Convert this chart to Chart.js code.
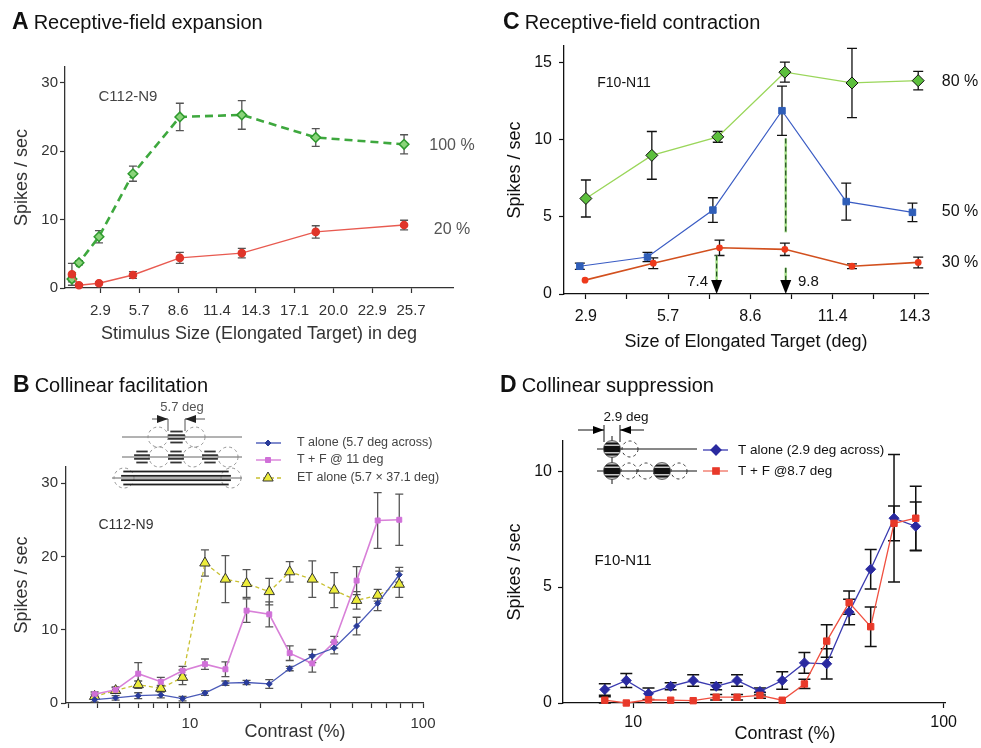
<!DOCTYPE html>
<html>
<head>
<meta charset="utf-8">
<script src="https://cdn.jsdelivr.net/npm/chart.js@4.4.0/dist/chart.umd.min.js"></script>
<style>
  body { margin: 0; background: #fff; }
  #wrap { position: relative; width: 981px; height: 748px; overflow: hidden; }
  #wrap canvas { position: absolute; left: 0; top: 0; }
  .head { position: absolute; font-family: 'Liberation Sans', Arial, sans-serif; font-size: 20px; line-height: 24px; color: #111; white-space: nowrap; }
  .head b { font-size: 23px; margin-right: 5px; }
</style>
</head>
<body>
<div id="wrap">
  <canvas id="panelA" width="981" height="748"></canvas>
  <canvas id="panelB" width="981" height="748"></canvas>
  <canvas id="panelC" width="981" height="748"></canvas>
  <canvas id="panelD" width="981" height="748"></canvas>
  <div class="head" style="left:12px; top:9px;"><b>A</b>Receptive-field expansion</div>
  <div class="head" style="left:503px; top:9px;"><b>C</b>Receptive-field contraction</div>
  <div class="head" style="left:13px; top:372px;"><b>B</b>Collinear facilitation</div>
  <div class="head" style="left:500px; top:372px;"><b>D</b>Collinear suppression</div>
</div>
<script>
var FONT = "'Liberation Sans', Arial, Helvetica, sans-serif";
Chart.defaults.font.family = FONT;

// A: spikes vs. stimulus size, two contrasts
var sizeA = [0.76, 1.28, 2.75, 5.25, 8.7, 13.26, 18.7, 25.2];
var rate100A = [1.3, 3.7, 7.5, 16.7, 25.0, 25.3, 22.0, 21.0];
var err100A = [0.4, 0.3, 0.9, 1.1, 2.0, 2.1, 1.3, 1.4];
var rate20A = [2.0, 0.4, 0.7, 1.9, 4.4, 5.1, 8.2, 9.2];
var err20A = [1.6, 0.2, 0.2, 0.5, 0.8, 0.7, 0.9, 0.7];
var sizeTicksA = [2.857, 5.714, 8.571, 11.429, 14.286, 17.143, 20.0, 22.857, 25.714];
var sizeLabelsA = ['2.9', '5.7', '8.6', '11.4', '14.3', '17.1', '20.0', '22.9', '25.7'];
var rateTicksA = [0, 10, 20, 30];

// C: spikes vs. target size, three contrasts
var size80C = [2.86, 5.15, 7.44, 9.77, 12.1, 14.4];
var rate80C = [6.2, 9.0, 10.2, 14.4, 13.7, 13.85];
var err80C = [1.2, 1.55, 0.35, 0.65, 2.25, 0.6];
var size50C = [2.65, 5.0, 7.27, 9.67, 11.9, 14.2];
var rate50C = [1.8, 2.4, 5.45, 11.9, 6.0, 5.3];
var err50C = [0.2, 0.3, 0.8, 1.6, 1.2, 0.6];
var size30C = [2.83, 5.2, 7.5, 9.77, 12.1, 14.4];
var rate30C = [0.9, 2.0, 3.0, 2.9, 1.8, 2.05];
var err30C = [0, 0.35, 0.5, 0.4, 0.15, 0.35];
var sizeTicksC = [2.857, 4.286, 5.714, 7.143, 8.571, 10.0, 11.429, 12.857, 14.286];
var sizeLabelsC = ['2.9', '', '5.7', '', '8.6', '', '11.4', '', '14.3'];
var rateTicksC = [0, 5, 10, 15];
var rfSizesC = [7.4, 9.8];
// dashed drop lines: [size, from, to]
var dropLinesC = [[7.4, 2.5, 0.8], [9.8, 10.1, 4.0], [9.8, 1.7, 0.8]];

// B: contrast response, target alone / flankers / elongated target
var contrastB = [3.9, 4.8, 6.0, 7.5, 9.3, 11.6, 14.2, 17.5, 21.9, 26.8, 33.5, 41.6, 51.9, 63.9, 79.1];
var tAloneB = [0.45, 0.7, 1.0, 1.1, 0.6, 1.35, 2.7, 2.8, 2.6, 4.7, 6.4, 7.5, 10.5, 13.6, 17.5];
var tAloneErrB = [0.3, 0.3, 0.4, 0.4, 0.3, 0.3, 0.3, 0.3, 0.6, 0.3, 0.9, 0.8, 1.2, 1.0, 1.0];
var flankB = [1.2, 1.8, 4.0, 2.9, 4.4, 5.3, 4.6, 12.6, 12.1, 6.8, 5.4, 8.3, 16.7, 24.9, 25.0];
var flankErrB = [0.3, 0.4, 1.5, 0.6, 0.6, 0.7, 1.0, 1.6, 1.7, 1.0, 1.2, 0.8, 1.9, 3.8, 3.5];
var elongB = [0.9, 1.7, 2.5, 2.0, 3.5, 19.1, 16.9, 16.3, 15.2, 17.9, 16.9, 15.4, 14.0, 14.7, 16.2];
var elongErrB = [0.3, 0.4, 0.5, 0.4, 1.0, 1.8, 3.2, 1.9, 1.8, 1.4, 2.5, 2.4, 1.2, 0.8, 1.8];
var contrastTicksB = [3, 4, 5, 6, 7, 8, 9, 10, 20, 30, 40, 50, 60, 70, 80, 90, 100];
var rateTicksB = [0, 10, 20, 30];

// D: contrast response, target alone / flankers
var contrastD = [8.1, 9.5, 11.2, 13.2, 15.6, 18.5, 21.6, 25.6, 30.2, 35.6, 42.0, 49.6, 58.2, 69.2, 81.3];
var tAloneD = [0.58, 0.97, 0.4, 0.72, 0.97, 0.72, 0.97, 0.5, 0.97, 1.73, 1.69, 3.92, 5.77, 7.97, 7.62];
var tAloneErrD = [0.25, 0.3, 0.25, 0.15, 0.25, 0.15, 0.25, 0.15, 0.38, 0.45, 0.65, 0.55, 0.85, 2.75, 1.05];
var flankD = [0.12, 0.0, 0.14, 0.12, 0.1, 0.25, 0.25, 0.33, 0.12, 0.82, 2.67, 4.33, 3.29, 7.75, 7.97];
var flankErrD = [0.15, 0, 0, 0, 0, 0.12, 0.12, 0.12, 0, 0.2, 0.7, 0.5, 0.85, 0.75, 1.38];
var contrastTicksD = [10, 100];
var rateTicksD = [0, 5, 10];

function pts(xs, ys) {
    return xs.map(function (x, i) { return {x: x, y: ys[i]}; });
}

function text(ctx, t) {
    ctx.save();
    ctx.font = (t.size || 15) + 'px ' + FONT;
    ctx.fillStyle = t.color || '#111';
    ctx.textAlign = t.align || 'center';
    ctx.textBaseline = 'middle';
    ctx.fillText(t.text, t.x, t.y);
    ctx.restore();
}

// vertical error bars with caps, drawn under the markers
var errorBars = {
    id: 'errorBars',
    beforeDatasetsDraw: function (chart, args, opts) {
        var ctx = chart.ctx, xs = chart.scales.x, ys = chart.scales.y;
        ctx.save();
        ctx.strokeStyle = opts.color;
        ctx.lineWidth = opts.width;
        chart.data.datasets.forEach(function (ds) {
            if (!ds.errors) return;
            ds.data.forEach(function (p, j) {
                var e = ds.errors[j];
                if (!e) return;
                var px = xs.getPixelForValue(p.x);
                var top = ys.getPixelForValue(p.y + e);
                var bot = ys.getPixelForValue(Math.max(p.y - e, ys.min));
                ctx.beginPath();
                ctx.moveTo(px, top); ctx.lineTo(px, bot);
                ctx.moveTo(px - opts.cap, top); ctx.lineTo(px + opts.cap, top);
                ctx.moveTo(px - opts.cap, bot); ctx.lineTo(px + opts.cap, bot);
                ctx.stroke();
            });
        });
        ctx.restore();
    }
};

var notes = {
    id: 'notes',
    afterDraw: function (chart, args, opts) {
        (opts.items || []).forEach(function (t) { text(chart.ctx, t); });
    }
};

function fixedTicks(list) {
    return function (s) { s.ticks = list.map(function (v) { return {value: v}; }); };
}

function axisX(o) {
    return {
        type: o.type, min: o.min, max: o.max,
        afterFit: function (s) { s.height = o.height; },
        afterBuildTicks: fixedTicks(o.ticks),
        border: {display: true, color: o.color, width: 1.3},
        grid: {drawOnChartArea: false, drawTicks: true, tickLength: 5, tickColor: o.color, tickWidth: 1.2},
        ticks: {callback: o.label, autoSkip: false, maxRotation: 0, padding: o.pad,
                color: o.color, font: {size: o.font}},
        title: o.title ? {display: true, text: o.title, color: o.color, font: {size: 18}, padding: 0} : {display: false}
    };
}

function axisY(o) {
    return {
        type: 'linear', min: 0, max: o.max,
        afterFit: function (s) { s.width = o.width; },
        afterBuildTicks: fixedTicks(o.ticks),
        border: {display: true, color: o.color, width: 1.3},
        grid: {drawOnChartArea: false, drawTicks: true, tickLength: 5, tickColor: o.color, tickWidth: 1.2},
        ticks: {padding: o.pad, color: o.color, font: {size: o.font}},
        title: {display: true, text: 'Spikes / sec', color: o.color, font: {size: 18}, padding: 0}
    };
}

function baseOptions(pad, scales, errOpts, noteItems) {
    return {
        responsive: false,
        animation: false,
        events: [],
        layout: {padding: pad},
        scales: scales,
        elements: {line: {tension: 0, fill: false}},
        plugins: {
            legend: {display: false},
            tooltip: {enabled: false},
            errorBars: errOpts,
            notes: {items: noteItems}
        }
    };
}

// ---------- A ----------
new Chart(document.getElementById('panelA').getContext('2d'), {
    type: 'line',
    data: {
        datasets: [{
            data: pts(sizeA, rate20A), errors: err20A,
            borderColor: '#e85a50', borderWidth: 1.4,
            pointStyle: 'circle', pointRadius: 3.6,
            pointBackgroundColor: '#e0352a', pointBorderColor: '#e0352a', clip: false
        }, {
            data: pts(sizeA, rate100A), errors: err100A,
            borderColor: '#3ea83e', borderWidth: 2.6, borderDash: [8, 5],
            pointStyle: 'rectRot', pointRadius: 4.8, pointBorderWidth: 1.5,
            pointBackgroundColor: '#8ad47a', pointBorderColor: '#2e9a2e', clip: false
        }]
    },
    plugins: [errorBars, notes],
    options: baseOptions({left: 11, top: 67, right: 528, bottom: 403}, {
        x: axisX({type: 'linear', min: 0.25, max: 28.8, height: 57, ticks: sizeTicksA,
                  label: function (v, i) { return sizeLabelsA[i]; }, pad: 9, font: 15, color: '#333',
                  title: 'Stimulus Size (Elongated Target) in deg'}),
        y: axisY({max: 32.3, ticks: rateTicksA, width: 54, pad: 2, font: 15, color: '#333'})
    }, {color: '#555', width: 1.3, cap: 4}, [
        {text: 'C112-N9', x: 128, y: 97, size: 15, color: '#444'},
        {text: '100 %', x: 452, y: 146, size: 16, color: '#555'},
        {text: '20 %', x: 452, y: 230, size: 16, color: '#555'}
    ])
});

// ---------- C ----------
var rfMarkers = {
    id: 'rfMarkers',
    afterDatasetsDraw: function (chart) {
        var ctx = chart.ctx, xs = chart.scales.x, ys = chart.scales.y;
        ctx.save();
        dropLinesC.forEach(function (d) {
            var px = xs.getPixelForValue(d[0]);
            ctx.beginPath();
            ctx.moveTo(px, ys.getPixelForValue(d[1]));
            ctx.lineTo(px, ys.getPixelForValue(d[2]));
            ctx.setLineDash([]);
            ctx.strokeStyle = '#a8e08c'; ctx.lineWidth = 2.6; ctx.stroke();
            ctx.setLineDash([5, 3]);
            ctx.strokeStyle = '#1e4a1e'; ctx.lineWidth = 1.2; ctx.stroke();
        });
        ctx.setLineDash([]);
        ctx.fillStyle = '#000';
        rfSizesC.forEach(function (v) {
            var px = xs.getPixelForValue(v), y0 = ys.getPixelForValue(0);
            ctx.beginPath();
            ctx.moveTo(px - 5.5, y0 - 14); ctx.lineTo(px + 5.5, y0 - 14); ctx.lineTo(px, y0);
            ctx.closePath(); ctx.fill();
        });
        ctx.restore();
    }
};

new Chart(document.getElementById('panelC').getContext('2d'), {
    type: 'line',
    data: {
        datasets: [{
            data: pts(size30C, rate30C), errors: err30C,
            borderColor: '#d2501e', borderWidth: 1.6,
            pointStyle: 'circle', pointRadius: 2.6,
            pointBackgroundColor: '#ee3a1c', pointBorderColor: '#ee3a1c', clip: false
        }, {
            data: pts(size50C, rate50C), errors: err50C,
            borderColor: '#3a5cc4', borderWidth: 1.2,
            pointStyle: 'rect', pointRadius: 4.6, pointBorderWidth: 1,
            pointBackgroundColor: '#2f5eb8', pointBorderColor: '#2f5eb8', clip: false
        }, {
            data: pts(size80C, rate80C), errors: err80C,
            borderColor: '#9ad65a', borderWidth: 1.3,
            pointStyle: 'rectRot', pointRadius: 6, pointBorderWidth: 1,
            pointBackgroundColor: '#5cbf3c', pointBorderColor: '#111', clip: false
        }]
    },
    plugins: [errorBars, notes, rfMarkers],
    options: baseOptions({left: 504, top: 46, right: 53, bottom: 395}, {
        x: axisX({type: 'linear', min: 2.1, max: 14.74, height: 59, ticks: sizeTicksC,
                  label: function (v, i) { return sizeLabelsC[i]; }, pad: 8, font: 16, color: '#111',
                  title: 'Size of Elongated Target (deg)'}),
        y: axisY({max: 16.1, ticks: rateTicksC, width: 60, pad: 7, font: 16, color: '#111'})
    }, {color: '#111', width: 1.3, cap: 5}, [
        {text: 'F10-N11', x: 624, y: 83, size: 14},
        {text: '80 %', x: 960, y: 82, size: 16},
        {text: '50 %', x: 960, y: 212, size: 16},
        {text: '30 %', x: 960, y: 263, size: 16},
        {text: '7.4', x: 708, y: 282, size: 15, align: 'right'},
        {text: '9.8', x: 798, y: 282, size: 15, align: 'left'}
    ])
});

// ---------- stimulus sketches ----------
function arrowHead(ctx, tipX, y, dir) {
    ctx.beginPath();
    ctx.moveTo(tipX, y); ctx.lineTo(tipX - dir * 11, y - 4); ctx.lineTo(tipX - dir * 11, y + 4);
    ctx.closePath(); ctx.fill();
}

function dashedCircle(ctx, cx, cy, r, color) {
    ctx.save();
    ctx.setLineDash([3, 3]);
    ctx.strokeStyle = color; ctx.lineWidth = 0.9;
    ctx.beginPath(); ctx.arc(cx, cy, r, 0, Math.PI * 2); ctx.stroke();
    ctx.restore();
}

function gratingDisk(ctx, cx, cy, r) {
    ctx.save();
    ctx.beginPath(); ctx.arc(cx, cy, r, 0, Math.PI * 2); ctx.clip();
    ctx.fillStyle = '#c8c8c8'; ctx.fillRect(cx - r, cy - r, 2 * r, 2 * r);
    ctx.fillStyle = '#111';
    [-5.5, -2, 2, 5.5].forEach(function (o) { ctx.fillRect(cx - r, cy + o - 1, 2 * r, 2); });
    ctx.fillRect(cx - r, cy - 1.2, 2 * r, 2.4);
    ctx.restore();
    ctx.strokeStyle = '#444'; ctx.lineWidth = 0.8;
    ctx.beginPath(); ctx.arc(cx, cy, r, 0, Math.PI * 2); ctx.stroke();
}

function gratingPatch(ctx, x0, x1, cy, h, color) {
    ctx.fillStyle = color;
    var n = Math.round(h / 3);
    for (var k = 0; k < n; k++) {
        var yy = cy - h / 2 + k * h / (n - 1);
        var inset = Math.abs(k - (n - 1) / 2) * 2.2;
        ctx.fillRect(x0 + inset, yy - 0.9, x1 - x0 - 2 * inset, 1.8);
    }
}

var sketchB = {
    id: 'sketchB',
    afterDraw: function (chart) {
        var ctx = chart.ctx;
        ctx.save();
        text(ctx, {text: '5.7 deg', x: 182, y: 407, size: 13, color: '#555'});
        ctx.strokeStyle = '#555'; ctx.fillStyle = '#222'; ctx.lineWidth = 1;
        ctx.beginPath();
        ctx.moveTo(152, 419); ctx.lineTo(168, 419); ctx.lineTo(168, 431);
        ctx.moveTo(205, 419); ctx.lineTo(185, 419); ctx.lineTo(185, 431);
        ctx.stroke();
        arrowHead(ctx, 168, 419, 1);
        arrowHead(ctx, 185, 419, -1);
        // row 1: target alone
        ctx.strokeStyle = '#666'; ctx.lineWidth = 1;
        ctx.beginPath(); ctx.moveTo(122, 437); ctx.lineTo(242, 437); ctx.stroke();
        dashedCircle(ctx, 158, 437, 10, '#888');
        dashedCircle(ctx, 195, 437, 10, '#888');
        gratingPatch(ctx, 167, 186, 437, 11, '#333');
        // row 2: target with flankers
        ctx.beginPath(); ctx.moveTo(122, 457); ctx.lineTo(242, 457); ctx.stroke();
        [159, 193, 228].forEach(function (cx) { dashedCircle(ctx, cx, 457, 10, '#888'); });
        [142, 176, 210].forEach(function (cx) { gratingPatch(ctx, cx - 9, cx + 9, 457, 11, '#333'); });
        // row 3: elongated target
        ctx.beginPath(); ctx.moveTo(112, 478); ctx.lineTo(242, 478); ctx.stroke();
        dashedCircle(ctx, 124, 478, 10, '#888');
        dashedCircle(ctx, 231, 478, 10, '#888');
        gratingPatch(ctx, 120, 232, 478, 13, '#222');
        ctx.restore();

        // legend
        var rows = [
            {y: 443, label: 'T alone (5.7 deg across)', line: '#4a5ab8', style: 'rectRot', r: 3, fill: '#2a3c9a', edge: '#2a3c9a'},
            {y: 460, label: 'T + F @ 11 deg', line: '#d880d8', style: 'rect', r: 3.5, fill: '#d070d8', edge: '#d070d8'},
            {y: 478, label: 'ET alone (5.7 \u00d7 37.1 deg)', line: '#c8c030', style: 'triangle', r: 6, fill: '#ecec3a', edge: '#333', dash: [4, 3]}
        ];
        rows.forEach(function (r) {
            ctx.save();
            ctx.strokeStyle = r.line; ctx.lineWidth = 1.4;
            ctx.setLineDash(r.dash || []);
            ctx.beginPath(); ctx.moveTo(256, r.y); ctx.lineTo(281, r.y); ctx.stroke();
            ctx.setLineDash([]);
            ctx.fillStyle = r.fill; ctx.strokeStyle = r.edge; ctx.lineWidth = 1;
            Chart.helpers.drawPoint(ctx, {pointStyle: r.style, radius: r.r, borderWidth: 1}, 268, r.y);
            ctx.restore();
            text(ctx, {text: r.label, x: 297, y: r.y, size: 12.5, color: '#444', align: 'left'});
        });
    }
};

var sketchD = {
    id: 'sketchD',
    afterDraw: function (chart) {
        var ctx = chart.ctx;
        ctx.save();
        text(ctx, {text: '2.9 deg', x: 626, y: 417, size: 13.5});
        ctx.strokeStyle = '#111'; ctx.fillStyle = '#000'; ctx.lineWidth = 1;
        ctx.beginPath();
        ctx.moveTo(578, 430); ctx.lineTo(604, 430);
        ctx.moveTo(604, 425); ctx.lineTo(604, 442);
        ctx.moveTo(644, 430); ctx.lineTo(620, 430);
        ctx.moveTo(620, 425); ctx.lineTo(620, 442);
        ctx.stroke();
        arrowHead(ctx, 604, 430, 1);
        arrowHead(ctx, 620, 430, -1);
        // two rows: target alone, target plus flankers
        ctx.beginPath();
        ctx.moveTo(597, 449); ctx.lineTo(697, 449);
        ctx.moveTo(597, 471); ctx.lineTo(697, 471);
        ctx.moveTo(612, 436); ctx.lineTo(612, 484);
        ctx.stroke();
        gratingDisk(ctx, 612, 449, 8.5);
        dashedCircle(ctx, 630, 449, 8, '#222');
        gratingDisk(ctx, 612, 471, 8.5);
        [629, 646, 679].forEach(function (cx) { dashedCircle(ctx, cx, 471, 8, '#222'); });
        gratingDisk(ctx, 662, 471, 8.5);
        ctx.restore();

        var rows = [
            {y: 450, label: 'T alone (2.9 deg across)', line: '#3a3ab0', style: 'rectRot', r: 5, fill: '#2a2aa0'},
            {y: 471, label: 'T + F @8.7 deg', line: '#f07060', style: 'rect', r: 4.5, fill: '#e8392a'}
        ];
        rows.forEach(function (r) {
            ctx.save();
            ctx.strokeStyle = r.line; ctx.lineWidth = 1.3;
            ctx.beginPath(); ctx.moveTo(703, r.y); ctx.lineTo(728, r.y); ctx.stroke();
            ctx.fillStyle = r.fill; ctx.strokeStyle = r.fill;
            Chart.helpers.drawPoint(ctx, {pointStyle: r.style, radius: r.r, borderWidth: 1}, 716, r.y);
            ctx.restore();
            text(ctx, {text: r.label, x: 738, y: r.y, size: 13.5, align: 'left'});
        });
    }
};

// ---------- B ----------
new Chart(document.getElementById('panelB').getContext('2d'), {
    type: 'line',
    data: {
        datasets: [{
            data: pts(contrastB, tAloneB), errors: tAloneErrB,
            borderColor: '#4a5ab8', borderWidth: 1.3,
            pointStyle: 'rectRot', pointRadius: 3, pointBorderWidth: 1,
            pointBackgroundColor: '#2a3c9a', pointBorderColor: '#2a3c9a', clip: false
        }, {
            data: pts(contrastB, flankB), errors: flankErrB,
            borderColor: '#d880d8', borderWidth: 1.6,
            pointStyle: 'rect', pointRadius: 3.5, pointBorderWidth: 1,
            pointBackgroundColor: '#d070d8', pointBorderColor: '#d070d8', clip: false
        }, {
            data: pts(contrastB, elongB), errors: elongErrB,
            borderColor: '#c8c030', borderWidth: 1.3, borderDash: [4, 3],
            pointStyle: 'triangle', pointRadius: 6, pointBorderWidth: 1,
            pointBackgroundColor: '#ecec3a', pointBorderColor: '#333', clip: false
        }]
    },
    plugins: [errorBars, notes, sketchB],
    options: baseOptions({left: 11, top: 467, right: 558, bottom: 0}, {
        x: axisX({type: 'logarithmic', min: 2.94, max: 100, height: 45, ticks: contrastTicksB,
                  label: function (v) { return (v === 10 || v === 100) ? String(v) : ''; },
                  pad: 7, font: 15, color: '#333'}),
        y: axisY({max: 32.2, ticks: rateTicksB, width: 55, pad: 3, font: 15, color: '#333'})
    }, {color: '#555', width: 1.3, cap: 4}, [
        {text: 'C112-N9', x: 126, y: 525, size: 14, color: '#333'},
        {text: 'Contrast (%)', x: 295, y: 732, size: 18, color: '#333'}
    ])
});

// ---------- D ----------
new Chart(document.getElementById('panelD').getContext('2d'), {
    type: 'line',
    data: {
        datasets: [{
            data: pts(contrastD, flankD), errors: flankErrD,
            borderColor: '#f05040', borderWidth: 1.3,
            pointStyle: 'rect', pointRadius: 4.5, pointBorderWidth: 1,
            pointBackgroundColor: '#e8392a', pointBorderColor: '#e8392a', clip: false
        }, {
            data: pts(contrastD, tAloneD), errors: tAloneErrD,
            borderColor: '#3a3ab0', borderWidth: 1.3,
            pointStyle: 'rectRot', pointRadius: 5, pointBorderWidth: 1,
            pointBackgroundColor: '#2a2aa0', pointBorderColor: '#2a2aa0', clip: false
        }]
    },
    plugins: [errorBars, notes, sketchD],
    options: baseOptions({left: 504, top: 441, right: 36, bottom: 0}, {
        x: axisX({type: 'logarithmic', min: 5.94, max: 101, height: 45, ticks: contrastTicksD,
                  label: function (v) { return String(v); }, pad: 5, font: 16, color: '#111'}),
        y: axisY({max: 11.3, ticks: rateTicksD, width: 59, pad: 6, font: 16, color: '#111'})
    }, {color: '#111', width: 1.5, cap: 6}, [
        {text: 'F10-N11', x: 623, y: 561, size: 15},
        {text: 'Contrast (%)', x: 785, y: 734, size: 18}
    ])
});
</script>
</body>
</html>
